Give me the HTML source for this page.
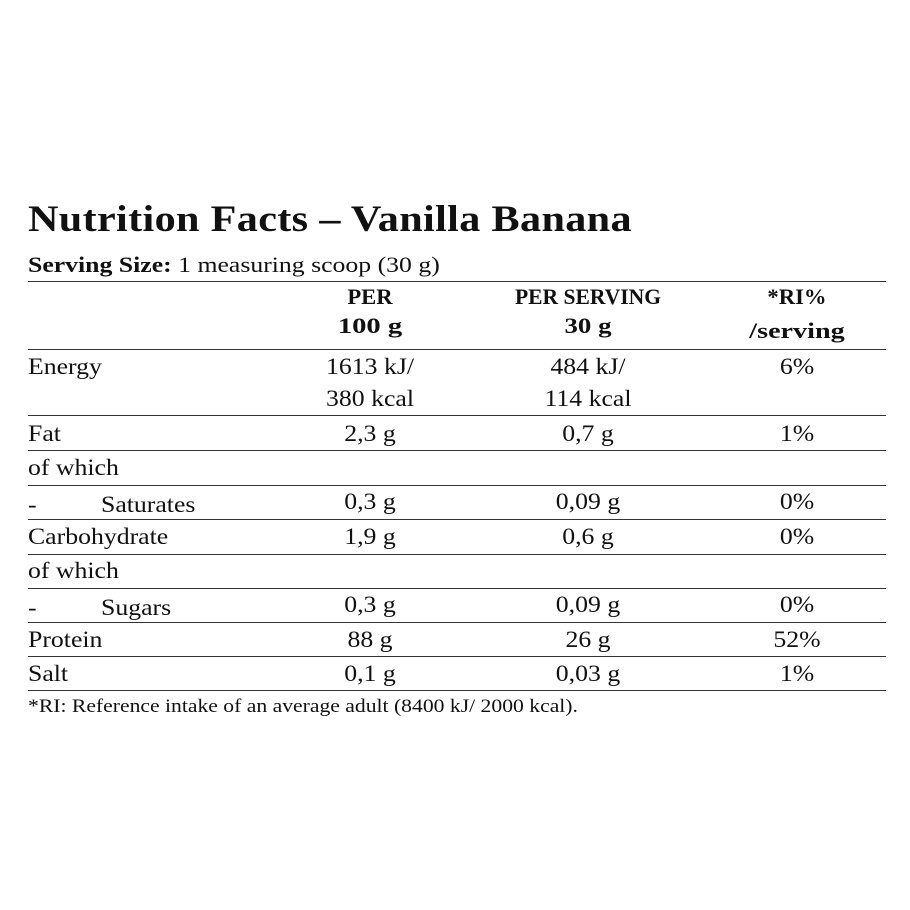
<!DOCTYPE html>
<html><head><meta charset="utf-8"><style>
body{margin:0;width:910px;height:910px;background:#fff;position:relative;overflow:hidden;font-family:"Liberation Serif",serif;color:#111}
.t{position:absolute;height:30px;line-height:30px;font-size:23px;white-space:nowrap;transform-origin:0 50%;transform:scaleX(1.12)}
.c{transform-origin:50% 50%;transform:translateX(-50%) scaleX(1.12)}
.b.c{font-size:22px;transform:translateX(-50%) scaleX(1.03)}
.b{font-weight:bold}
.l{position:absolute;left:28px;width:858px;height:0;border-top:1.5px solid #333}
</style></head><body>
<div class="t b" style="left:28px;top:198px;height:44px;line-height:44px;font-size:37px;letter-spacing:0.3px;transform:scaleX(1.14)">Nutrition Facts – Vanilla Banana</div>
<div class="t" style="left:28px;top:250px;font-size:22px;transform:scaleX(1.17)"><b>Serving Size:</b> 1 measuring scoop (30 g)</div>
<div class="l" style="top:281px"></div>
<div class="l" style="top:349px"></div>
<div class="l" style="top:415px"></div>
<div class="l" style="top:450px"></div>
<div class="l" style="top:485px"></div>
<div class="l" style="top:519px"></div>
<div class="l" style="top:554px"></div>
<div class="l" style="top:588px"></div>
<div class="l" style="top:622px"></div>
<div class="l" style="top:656px"></div>
<div class="l" style="top:690px"></div>

<div class="t b c" style="left:370px;top:282px">PER</div>
<div class="t b c" style="left:370px;top:311px;transform:translateX(-50%) scaleX(1.3)">100 g</div>
<div class="t b c" style="left:588px;top:282px;transform:translateX(-50%) scaleX(0.98)">PER SERVING</div>
<div class="t b c" style="left:588px;top:311px;transform:translateX(-50%) scaleX(1.22)">30 g</div>
<div class="t b c" style="left:797px;top:282px">*RI%</div>
<div class="t b c" style="left:797px;top:316px;transform:translateX(-50%) scaleX(1.28)">/serving</div>

<div class="t" style="left:28px;top:352px">Energy</div>
<div class="t c" style="left:370px;top:352px">1613 kJ/</div>
<div class="t c" style="left:370px;top:384px">380 kcal</div>
<div class="t c" style="left:588px;top:352px">484 kJ/</div>
<div class="t c" style="left:588px;top:384px">114 kcal</div>
<div class="t c" style="left:797px;top:352px">6%</div>

<div class="t" style="left:28px;top:419px">Fat</div>
<div class="t c" style="left:370px;top:419px">2,3 g</div>
<div class="t c" style="left:588px;top:419px">0,7 g</div>
<div class="t c" style="left:797px;top:419px">1%</div>

<div class="t" style="left:28px;top:453px">of which</div>

<div class="t" style="left:28px;top:490px">-</div>
<div class="t" style="left:101px;top:490px">Saturates</div>
<div class="t c" style="left:370px;top:487px">0,3 g</div>
<div class="t c" style="left:588px;top:487px">0,09 g</div>
<div class="t c" style="left:797px;top:487px">0%</div>

<div class="t" style="left:28px;top:522px">Carbohydrate</div>
<div class="t c" style="left:370px;top:522px">1,9 g</div>
<div class="t c" style="left:588px;top:522px">0,6 g</div>
<div class="t c" style="left:797px;top:522px">0%</div>

<div class="t" style="left:28px;top:556px">of which</div>

<div class="t" style="left:28px;top:593px">-</div>
<div class="t" style="left:101px;top:593px">Sugars</div>
<div class="t c" style="left:370px;top:590px">0,3 g</div>
<div class="t c" style="left:588px;top:590px">0,09 g</div>
<div class="t c" style="left:797px;top:590px">0%</div>

<div class="t" style="left:28px;top:625px">Protein</div>
<div class="t c" style="left:370px;top:625px">88 g</div>
<div class="t c" style="left:588px;top:625px">26 g</div>
<div class="t c" style="left:797px;top:625px">52%</div>

<div class="t" style="left:28px;top:659px">Salt</div>
<div class="t c" style="left:370px;top:659px">0,1 g</div>
<div class="t c" style="left:588px;top:659px">0,03 g</div>
<div class="t c" style="left:797px;top:659px">1%</div>

<div class="t" style="left:28px;top:692px;font-size:18.5px;transform:scaleX(1.17)">*RI: Reference intake of an average adult (8400 kJ/ 2000 kcal).</div>
</body></html>
